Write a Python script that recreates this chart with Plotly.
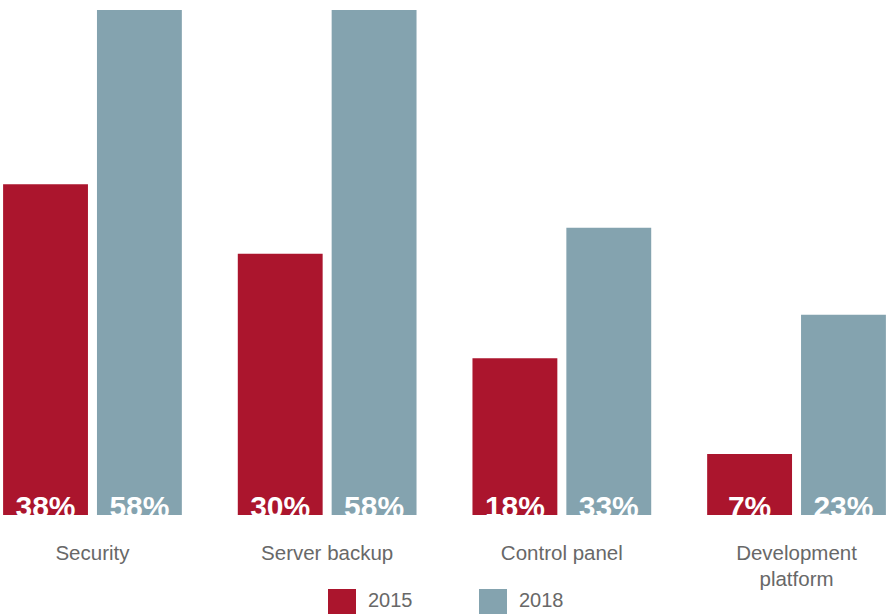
import plotly.graph_objects as go

# Survey data: share of respondents per feature
categories = ["Security", "Server backup", "Control panel", "Development<br>platform"]
series_names = ["2015", "2018"]
values_2015 = [38, 30, 18, 7]
values_2018 = [58, 58, 33, 23]

RED = "#AB152D"
BLUE = "#84A3AF"
GREY = "#686868"
FONT = "Liberation Sans, Arial, Helvetica, sans-serif"

W, H = 889, 614
MB = 99                      # space under the plot for labels + legend
PLOT_H = H - MB
X_RANGE = [-0.394, 3.394]
Y_RANGE = [0, 59.15]
BAR_GAP = 0.2
GROUP_GAP = 0.096
SLOT = (1 - BAR_GAP) / 2     # width reserved for each bar of a group

xs = list(range(len(categories)))

fig = go.Figure()
for name, vals, color, side in [
    (series_names[0], values_2015, RED, -1),
    (series_names[1], values_2018, BLUE, 1),
]:
    fig.add_trace(go.Bar(
        x=xs, y=vals, name=name, marker=dict(color=color, line=dict(width=0)),
        showlegend=False, hoverinfo="skip",
    ))
    # value labels sitting on the baseline, clipped by the plot edge
    fig.add_trace(go.Scatter(
        x=[x + side * SLOT / 2 for x in xs],
        y=[0.63] * len(xs),
        mode="text",
        text=[f"{v}%" for v in vals],
        textposition="middle center",
        textfont=dict(family=FONT, size=30, color="white", weight="bold"),
        cliponaxis=True, showlegend=False, hoverinfo="skip",
    ))

fig.update_layout(
    width=W, height=H,
    margin=dict(l=0, r=0, t=0, b=MB),
    paper_bgcolor="white", plot_bgcolor="white",
    barmode="group", bargap=BAR_GAP, bargroupgap=GROUP_GAP,
    showlegend=False,
    xaxis=dict(
        range=X_RANGE, tickmode="array", tickvals=xs, ticktext=categories,
        showgrid=False, zeroline=False, showline=False, ticks="",
        ticklabelstandoff=23,
        tickfont=dict(family=FONT, size=20.5, color=GREY),
        fixedrange=True,
    ),
    yaxis=dict(range=Y_RANGE, visible=False, fixedrange=True),
)

# Legend: colour swatches with year labels centred under the chart
legend_items = [(series_names[0], RED, 328), (series_names[1], BLUE, 479)]
SW = 28
sw_top = 589
for name, color, left in legend_items:
    fig.add_shape(
        type="rect", xref="paper", yref="paper",
        x0=left / W, x1=(left + SW) / W,
        y0=(PLOT_H - sw_top) / PLOT_H, y1=(PLOT_H - sw_top - SW) / PLOT_H,
        fillcolor=color, line=dict(width=0),
    )
    fig.add_annotation(
        xref="paper", yref="paper", x=(left + SW + 10) / W,
        y=(PLOT_H - 600) / PLOT_H, xanchor="left", yanchor="middle",
        text=name, showarrow=False,
        font=dict(family=FONT, size=20, color=GREY),
    )

fig.write_html("out.html")
